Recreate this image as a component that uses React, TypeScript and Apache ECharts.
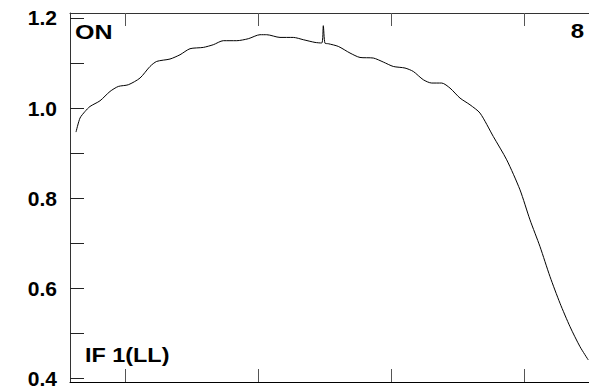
import React, { useEffect, useRef } from "react";
import * as echarts from "echarts";

const channel = [6, 10, 15, 20, 30, 40, 48.3, 58.3, 70, 80, 86.7, 100, 110, 120, 133.3, 143.3, 153.3, 166.7, 178.3, 190, 196.7, 210, 223.3, 233.3, 245, 251.7, 253.3, 255, 258.3, 268.3, 280, 290, 303.3, 313.3, 323.3, 335, 343.3, 353.3, 361.7, 371.7, 380, 390, 400, 410, 423.3, 436.7, 450, 460, 470, 480, 490, 500, 510, 518.3];
const amplitude = [0.9467, 0.9778, 0.9924, 1.0036, 1.0162, 1.0369, 1.048, 1.0518, 1.0667, 1.0924, 1.1036, 1.1089, 1.1184, 1.1318, 1.1347, 1.1407, 1.1496, 1.1496, 1.154, 1.1629, 1.1629, 1.1569, 1.1569, 1.1518, 1.1458, 1.1444, 1.1829, 1.144, 1.1429, 1.1369, 1.1222, 1.1124, 1.1111, 1.1022, 1.0924, 1.0889, 1.0813, 1.0629, 1.0556, 1.0556, 1.0444, 1.0222, 1.0073, 0.9889, 0.9369, 0.8851, 0.8184, 0.7518, 0.6924, 0.6258, 0.5667, 0.5147, 0.4702, 0.4407];

const xTicks = [55, 188, 321, 454];
const yTicks = [0.4, 0.5, 0.6, 0.7, 0.8, 0.9, 1.0, 1.1, 1.2];
const yLabels = [0.4, 0.6, 0.8, 1.0, 1.2];
const labelTopLeft = "ON";
const labelTopRight = "8";
const labelBottomLeft = "IF 1(LL)";

const FONT = "'Liberation Sans', Arial, sans-serif";

export default function App() {
  const ref = useRef<HTMLDivElement>(null);
  useEffect(() => {
    if (!ref.current) return;
    const chart = echarts.init(ref.current, null, { renderer: "svg" });
    const axisLine = { show: true, lineStyle: { color: "#333", width: 1 } };
    const xCommon = {
      type: "value" as const,
      min: 0,
      max: 519,
      axisLine,
      axisTick: { show: true, inside: true, length: 13, customValues: xTicks, lineStyle: { color: "#555" } },
      axisLabel: { show: false },
      splitLine: { show: false },
    };
    chart.setOption({
      animation: false,
      backgroundColor: "#fff",
      grid: { left: 70, right: 0, top: 13, bottom: 9 },
      xAxis: [
        { ...xCommon, position: "bottom", axisLine: { show: true, lineStyle: { color: "#000", width: 1 } } },
        { ...xCommon, position: "top" },
      ],
      yAxis: {
        type: "value",
        min: 0.3918,
        max: 1.2111,
        axisLine,
        axisTick: { show: true, inside: true, length: 14, customValues: yTicks, lineStyle: { color: "#222" } },
        axisLabel: {
          show: true,
          customValues: yLabels,
          margin: 13,
          fontFamily: FONT,
          fontWeight: "bold",
          fontSize: 21,
          color: "#000",
          formatter: (v: number) => v.toFixed(1),
        },
        splitLine: { show: false },
      },
      series: [
        {
          type: "line",
          xAxisIndex: 0,
          data: channel.map((c, i) => [c, amplitude[i]]),
          showSymbol: false,
          symbol: "none",
          smooth: 0.25,
          lineStyle: { color: "#000", width: 1 },
        },
      ],
      graphic: [
        {
          type: "text",
          x: 75,
          y: 32,
          scaleX: 1.25,
          style: { text: labelTopLeft, font: `bold 20px ${FONT}`, fill: "#000", verticalAlign: "middle", align: "left" },
        },
        {
          type: "text",
          x: 584,
          y: 31,
          scaleX: 1.2,
          style: { text: labelTopRight, font: `bold 20px ${FONT}`, fill: "#000", verticalAlign: "middle", align: "right" },
        },
        {
          type: "text",
          x: 85,
          y: 355,
          scaleX: 1.17,
          style: { text: labelBottomLeft, font: `bold 20px ${FONT}`, fill: "#000", verticalAlign: "middle", align: "left" },
        },
      ],
    });
    return () => chart.dispose();
  }, []);
  return (
    <div
      ref={ref}
      style={{ position: "fixed", left: 0, top: 0, width: 589, height: 391, background: "#fff" }}
    />
  );
}
